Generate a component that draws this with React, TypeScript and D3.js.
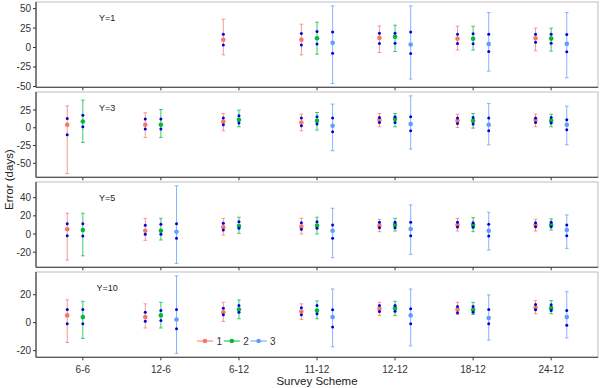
import React from 'react';
import * as d3 from 'd3';

// survey schemes on the x axis
const schemes = ['6-6', '12-6', '6-12', '11-12', '12-12', '18-12', '24-12'];
const seriesNames = ['1', '2', '3'];
const seriesColors = ['#F8766D', '#00BA38', '#619CFF'];
const panelLabels = ['Y=1', 'Y=3', 'Y=5', 'Y=10'];
const panelTicks = [[-50, -25, 0, 25, 50], [-50, -25, 0, 25], [-20, 0, 20, 40], [-20, 0, 20]];

// each entry: [mean, low, high, upper dot, lower dot] or null when missing
type Row = [number, number, number, number, number] | null;

const y1s1: Row[] = [null, null, [9.9, -9.4, 36.4, 17.2, 3.1], [9.9, -9.4, 30, 18, 3.1], [12.4, -6.4, 27.8, 18.5, 5.1], [11.2, -3.3, 27.4, 17.2, 5.1], [12, -4.2, 24.9, 17.2, 6.9]];
const y1s2: Row[] = [null, null, null, [12, -8.5, 32.6, 20.5, 4.4], [13.7, -5.1, 28.7, 18.5, 5.6], [11.2, -3.3, 27.4, 17.6, 4.7], [11.5, -4.6, 24.9, 17.2, 5.6]];
const y1s3: Row[] = [null, null, null, [6, -46.1, 53.5, 20.1, -7.2], [3.8, -40.5, 53.5, 20.1, -7.7], [4.4, -30.3, 44.9, 17.2, -5.1], [4.7, -38.8, 44.9, 16.7, -5.5]];

const y3s1: Row[] = [[4.2, -64.2, 30.9, 13.1, -9.8], [4.2, -13.6, 21.1, 12.2, -1.8], [8.4, -4.2, 20.1, 13.6, 4.2], [7.4, -4.2, 19.2, 13.6, 2.8], [10.8, 1.4, 20.1, 14.5, 7.4], [9.8, 0.5, 19.2, 13.6, 6.0], [10.8, 1.4, 19.2, 13.6, 7.4]];
const y3s2: Row[] = [[8.8, -20.6, 38.9, 17.8, 1.4], [4.2, -13.6, 25.7, 12.2, -1.8], [11.2, 1.4, 24.8, 16.8, 6.6], [9.8, -3.2, 21.5, 15.4, 5.2], [12.2, 1.4, 20.1, 15.4, 7.4], [9.8, -0.5, 20.1, 14.5, 5.2], [9.8, 1.4, 19.2, 14.5, 6.6]];
const y3s3: Row[] = [null, null, null, [2.8, -32.3, 33.3, 13.6, -5.6], [5.2, -29.9, 44.9, 15.4, -4.2], [4.2, -23.9, 34.1, 13.6, -4.2], [4.2, -23.9, 30.5, 11.2, -2.8]];

const y5s1: Row[] = [[5.2, -28.7, 22.9, 11.4, -1.9], [3.6, -7, 17.3, 9.6, -0.3], [7.4, -1.1, 17.3, 11.8, 4.4], [8.1, 0, 17.3, 12.5, 5.2], [9.2, 2.5, 16.2, 12.9, 7.0], [9.9, 3.3, 17.3, 12.9, 7.7], [9.9, 3.3, 16.2, 12.5, 8.1]];
const y5s2: Row[] = [[4.4, -24, 22.9, 11.4, -2.2], [3.6, -6.6, 17.3, 10.7, -0.3], [8.8, 0.7, 18.5, 13.6, 6.3], [9.2, 0, 18.5, 13.6, 6.3], [9.9, 3.3, 17.3, 12.9, 7.0], [9.9, 2.5, 18, 12.5, 7.4], [9.9, 4.4, 16.6, 12.9, 8.1]];
const y5s3: Row[] = [null, [2.5, -32.4, 53, 11.4, -4.8], null, [3.6, -26.2, 28.4, 9.9, -4.8], [5.5, -22.4, 32, 12.9, -1.9], [3.6, -17.7, 24, 10.7, -2.2], [4.4, -15.8, 21, 9.9, -1.9]];

const y10s1: Row[] = [[5.2, -14.2, 16.3, 9.4, -0.7], [4, -3.8, 13.5, 7.5, 1.1], [7.5, 0.9, 14.6, 10.4, 5.7], [8, 2.3, 13.5, 10.6, 5.7], [9.9, 5.2, 14.6, 12.3, 8.0], [9.4, 5.9, 14.6, 11.6, 7.1], [10.6, 6.4, 15.8, 13, 9.2]];
const y10s2: Row[] = [[4, -11.3, 15.3, 9.4, -0.7], [5.2, -3.8, 14.6, 8.7, 1.6], [9.4, 2.8, 16.3, 12.3, 7.5], [8.7, 2.8, 15.6, 12.3, 6.4], [10.4, 5.2, 15.3, 12.3, 8.2], [9.2, 5.9, 14.6, 11.6, 7.5], [10.4, 6.4, 15.8, 12.8, 8.7]];
const y10s3: Row[] = [null, [2.3, -22, 33.5, 9.4, -4.3], null, [4, -17.3, 24.1, 9.2, -3.1], [5.2, -16.6, 24.1, 9.9, -0.7], [3.3, -12.5, 19.9, 9.4, -0.7], [4, -10.9, 22.2, 8.7, -1.9]];

const panels: Row[][][] = [
  [y1s1, y1s2, y1s3],
  [y3s1, y3s2, y3s3],
  [y5s1, y5s2, y5s3],
  [y10s1, y10s2, y10s3],
];

const W = 600, H = 388;
const left = 36, right = 598, top = 2, panelH = 85.3, gap = 4.7;
const font = '"Liberation Sans", Arial, sans-serif';
const dark = '#333333';

export default function App() {
  const x = d3.scalePoint<string>().domain(schemes).range([left, right]).padding(0.6);
  const step = x.step();
  const dodge = [-0.2, 0, 0.2];

  return (
    <svg width={W} height={H} style={{ position: 'absolute', left: 0, top: 0, background: '#fff' }} fontFamily={font}>
      {panels.map((series, pi) => {
        const y0 = top + pi * (panelH + gap);
        const y1 = y0 + panelH;
        const all = series.flat().filter((r): r is NonNullable<Row> => r !== null);
        const lo = d3.min(all, (r) => r[1]) as number;
        const hi = d3.max(all, (r) => r[2]) as number;
        const pad = (hi - lo) * 0.05;
        const y = d3.scaleLinear().domain([lo - pad, hi + pad]).range([y1, y0]);
        return (
          <g key={pi}>
            <rect x={left} y={y0} width={right - left} height={panelH} fill="#fff" stroke="#bdbdbd" strokeWidth={1} />
            <text x={(x(schemes[0]) as number) + step * 0.31} y={y0 + 18.5} fontSize={9} textAnchor="middle" fill="#222">{panelLabels[pi]}</text>
            {series.map((rows, si) =>
              rows.map((r, ci) => {
                if (!r) return null;
                const cx = (x(schemes[ci]) as number) + dodge[si] * step;
                return (
                  <g key={`${si}-${ci}`} stroke={seriesColors[si]} strokeOpacity={0.75} strokeWidth={1}>
                    <line x1={cx} x2={cx} y1={y(r[1])} y2={y(r[2])} />
                    <line x1={cx - 1.8} x2={cx + 1.8} y1={y(r[1])} y2={y(r[1])} />
                    <line x1={cx - 1.8} x2={cx + 1.8} y1={y(r[2])} y2={y(r[2])} />
                  </g>
                );
              })
            )}
            {series.map((rows, si) =>
              rows.map((r, ci) => {
                if (!r) return null;
                const cx = (x(schemes[ci]) as number) + dodge[si] * step;
                return (
                  <g key={`p${si}-${ci}`}>
                    <circle cx={cx} cy={y(r[0])} r={2.3} fill={seriesColors[si]} />
                    <circle cx={cx} cy={y(r[3])} r={1.5} fill="#0000dd" />
                    <circle cx={cx} cy={y(r[4])} r={1.5} fill="#0000dd" />
                  </g>
                );
              })
            )}
            {panelTicks[pi].map((t) => (
              <g key={t}>
                <line x1={left - 3} x2={left} y1={y(t)} y2={y(t)} stroke={dark} strokeWidth={1} />
                <text x={left - 5} y={y(t)} dy="0.35em" fontSize={10} textAnchor="end" fill={dark}>{t}</text>
              </g>
            ))}
            {schemes.map((s) => (
              <line key={s} x1={x(s)} x2={x(s)} y1={y1} y2={y1 + 3} stroke={dark} strokeWidth={1} />
            ))}
            <line x1={left} x2={left} y1={y0} y2={y1} stroke={dark} strokeWidth={1.1} />
            <line x1={left} x2={right} y1={y1} y2={y1} stroke={dark} strokeWidth={1.1} />
          </g>
        );
      })}
      {schemes.map((s) => (
        <text key={s} x={x(s)} y={372.5} fontSize={10} textAnchor="middle" fill={dark}>{s}</text>
      ))}
      <text x={(left + right) / 2} y={385} fontSize={11.5} textAnchor="middle" fill="#222">Survey Scheme</text>
      <text transform={`translate(13,${top + (4 * panelH + 3 * gap) / 2}) rotate(-90)`} fontSize={11.5} textAnchor="middle" fill="#222">Error (days)</text>
      <g transform="translate(197,341)">
        {seriesNames.map((n, i) => (
          <g key={n} transform={`translate(${i * 26.8},0)`}>
            <line x1={0} x2={16} y1={0} y2={0} stroke={seriesColors[i]} strokeWidth={1} />
            <circle cx={8} cy={0} r={2.3} fill={seriesColors[i]} />
            <text x={19.5} y={0} dy="0.36em" fontSize={10} fill={dark}>{n}</text>
          </g>
        ))}
      </g>
    </svg>
  );
}
